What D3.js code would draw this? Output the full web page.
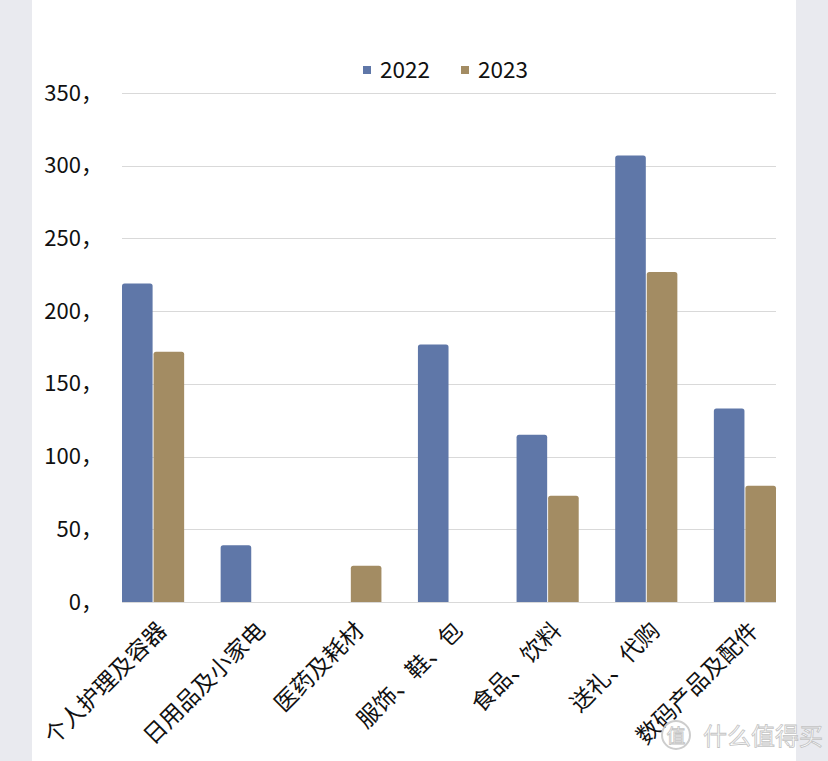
<!DOCTYPE html>
<html><head><meta charset="utf-8">
<script src="https://cdn.jsdelivr.net/npm/d3@7/dist/d3.min.js"></script>
<style>
html,body{margin:0;padding:0;background:#e9eaef;}
svg{display:block;font-family:"Noto Sans CJK SC","Noto Sans",sans-serif;}
</style></head>
<body>
<svg id="c" width="828" height="761"></svg>
<script>
const categories = ["个人护理及容器","日用品及小家电","医药及耗材","服饰、鞋、包","食品、饮料","送礼、代购","数码产品及配件"];
const seriesNames = ["2022","2023"];
const values2022 = [219, 39, null, 177, 115, 307, 133];
const values2023 = [172, null, 25, null, 73, 227, 80];
const yTicks = [0,50,100,150,200,250,300,350];
const colors = ["#5f77a8","#a38c63"];

const svg = d3.select("#c");
svg.append("rect").attr("x",32).attr("y",0).attr("width",764).attr("height",761).attr("fill","#fff");

const x0 = d3.scaleBand().domain(categories).range([122,776]).paddingInner(0.37).paddingOuter(0);
const x1 = d3.scaleBand().domain(seriesNames).range([0,x0.bandwidth()]).paddingInner(0.03);
const y = d3.scaleLinear().domain([0,350]).range([602,93]);

// grid
svg.append("g").selectAll("line").data(yTicks).join("line")
  .attr("x1",122).attr("x2",776)
  .attr("y1",d=>Math.round(y(d))+0.5).attr("y2",d=>Math.round(y(d))+0.5)
  .attr("stroke","#d9d9d9").attr("stroke-width",1);

// y axis labels
const yAxis = d3.axisLeft(y).tickValues(yTicks).tickSize(0).tickPadding(0).tickFormat(d=>d+"，");
const ya = svg.append("g").attr("transform","translate(103,0)").call(yAxis);
ya.select(".domain").remove();
ya.selectAll("text").attr("font-size",22).attr("fill","#111").attr("font-family","\"Noto Sans CJK SC\",sans-serif");

// bars
const series = [values2022, values2023];
const g = svg.append("g");
series.forEach((vals,si)=>{
  g.selectAll(null).data(categories.map((c,i)=>({c,v:vals[i]})).filter(d=>d.v!=null)).join("path")
    .attr("fill",colors[si])
    .attr("d",d=>{
      const x = x0(d.c)+x1(seriesNames[si]);
      const w = x1.bandwidth();
      const yt = y(d.v), yb = y(0);
      const r = 2.5;
      return `M${x},${yb}V${yt+r}Q${x},${yt} ${x+r},${yt}H${x+w-r}Q${x+w},${yt} ${x+w},${yt+r}V${yb}Z`;
    });
});

// x labels
const xa = svg.append("g");
categories.forEach(c=>{
  const cx = x0(c)+x0.bandwidth()/2;
  xa.append("text").text(c)
    .attr("transform",`translate(${cx+2},${619}) rotate(-45)`)
    .attr("text-anchor","end").attr("dy","0.8em")
    .attr("font-size",23).attr("fill","#111");
});

// legend
const lg = svg.append("g");
const legX = [363,461];
seriesNames.forEach((s,i)=>{
  lg.append("rect").attr("x",legX[i]).attr("y",66).attr("width",8).attr("height",8).attr("fill",colors[i]);
  lg.append("text").attr("x",legX[i]+17).attr("y",78).text(s).attr("font-size",22.5).attr("fill","#111");
});

// watermark
const wm = svg.append("g").attr("opacity",0.9);
wm.append("circle").attr("cx",676).attr("cy",735).attr("r",14).attr("fill","none").attr("stroke","#c8c8c8").attr("stroke-width",2);
wm.append("text").attr("x",676).attr("y",743).attr("text-anchor","middle").text("值").attr("font-size",19).attr("fill","#fff").attr("stroke","#bdbdbd").attr("stroke-width",0.8);
wm.append("text").attr("x",703).attr("y",745).text("什么值得买").attr("font-size",24).attr("fill","#fff").attr("stroke","#bdbdbd").attr("stroke-width",0.8);
</script>
</body></html>
